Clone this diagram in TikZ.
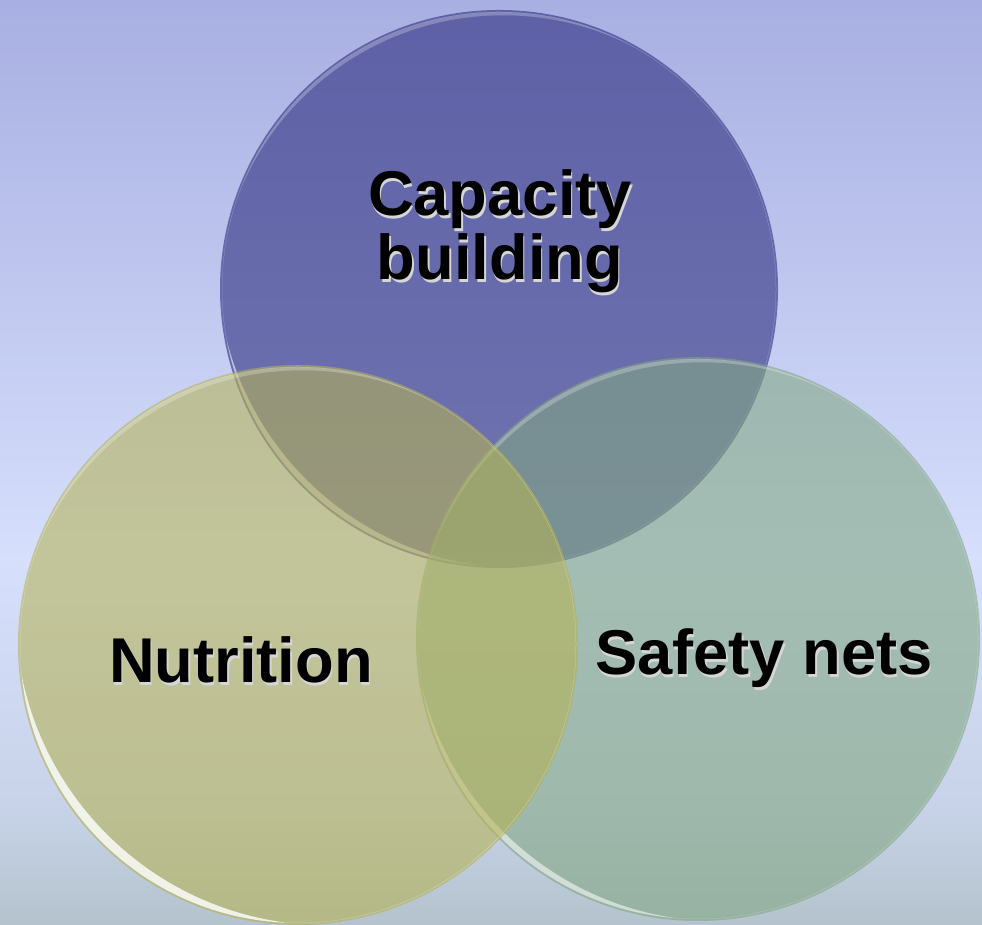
\documentclass[tikz,border=0pt]{standalone}
\usepackage{fontspec}
\setmainfont{Liberation Sans}
\definecolor{bgtop}{RGB}{168,175,226}
\definecolor{bgmid}{RGB}{214,223,252}
\definecolor{bglow}{RGB}{200,211,233}
\definecolor{bgbot}{RGB}{180,195,205}
\definecolor{capblue}{RGB}{40,40,123}
\definecolor{netgreen}{RGB}{129,166,129}
\definecolor{nutolive}{RGB}{181,178,84}
\newcommand\shtext[1]{\rlap{\kern0.4pt\raisebox{-0.8pt}{\textcolor{black!16}{#1}}}#1}
% crescent highlight inside a circle: centre, radius, shift angle, shift, extra radius
\def\rimarc[#1](#2)(#3:#4:#5:#6){\begin{scope}\clip (#2) circle[radius=#3];
	\fill[#1, even odd rule] (#2) circle[radius=#3] ([shift={(#4:#5)}]#2) circle[radius=#3+#6];\end{scope}}
\tikzset{
	venn/.style={fill=#1, fill opacity=0.58},
	venntext/.style={font=\bfseries\fontsize{18}{18.2}\selectfont, text=black, align=center, inner sep=0pt}
}

\begin{document}
\begin{tikzpicture}[x=0.01cm, y=0.01cm]
			%%%%% START %%%%%
			
			\useasboundingbox (0, 0) rectangle (982, 925);
			\clip (0, 0) rectangle (982, 925);
			
			% background
			\shade[top color=bgtop, bottom color=bgmid] (0, 365) rectangle (982, 925);
			\shade[top color=bgmid, bottom color=bglow] (0, 120) rectangle (982, 365);
			\shade[top color=bglow, bottom color=bgbot] (0, 0) rectangle (982, 120);
			
			\coordinate (T) at (499, 636);
			\coordinate (R) at (698, 286);
			\coordinate (L) at (298, 280);
			
			% circles
			\fill[venn=capblue] (T) circle[radius=279];
			\rimarc[white, fill opacity=0.25](T)(277:290:12:8)
			\rimarc[white, fill opacity=0.55](T)(277:48:32:26)
			
			\fill[venn=netgreen] (R) circle[radius=282];
			\rimarc[white, fill opacity=0.25](R)(280:290:12:8)
			\rimarc[white, fill opacity=0.55](R)(280:48:32:26)
			
			\fill[venn=nutolive] (L) circle[radius=280];
			\rimarc[white, fill opacity=0.25](L)(278:290:12:8)
			\rimarc[white, fill opacity=0.8](L)(278:47:42:33)
			
			% texts
			\node[venntext] (cap) at (500, 692) {\shtext{Capacity}\\\shtext{building}};
			\node[venntext, anchor=base] (nut) at (241, 242) {\shtext{Nutrition}};
			\node[venntext, anchor=base] (saf) at (764, 250) {\shtext{Safety nets}};
			
			%%%%% END %%%%%
\end{tikzpicture}
\end{document}
